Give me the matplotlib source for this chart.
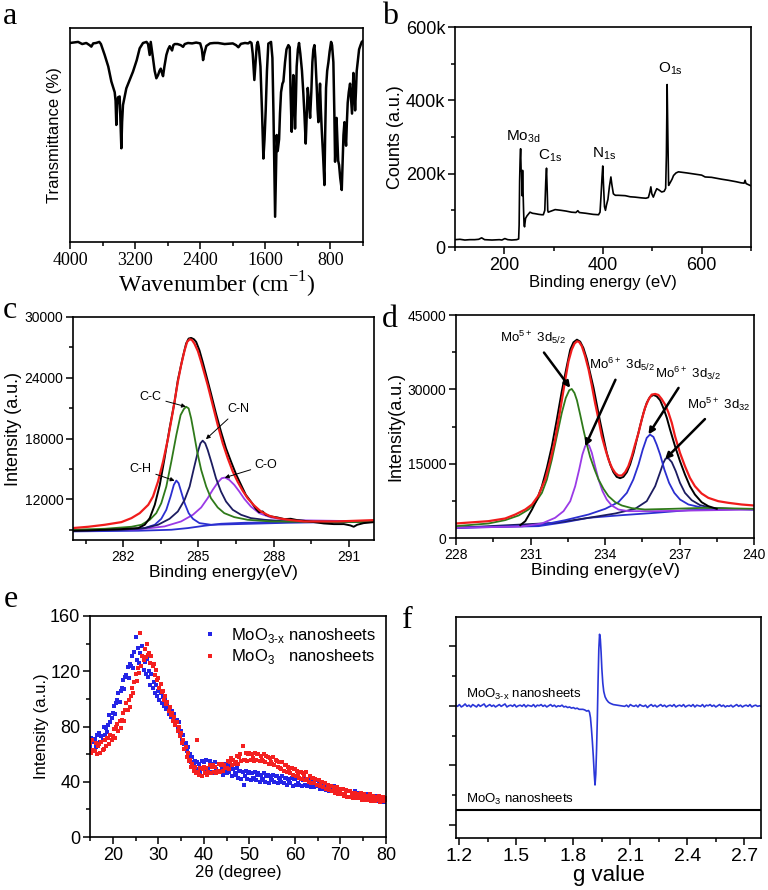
import numpy as np
import matplotlib
matplotlib.use('Agg')
import matplotlib.pyplot as plt
from matplotlib.ticker import FuncFormatter

plt.rcParams['font.family'] = ['Liberation Sans', 'DejaVu Sans']
plt.rcParams['axes.linewidth'] = 1.2
SERIF = ['Liberation Serif', 'DejaVu Serif']
W, H = 768, 890

# ---------------- (a) FTIR ----------------
ftir_wn = [4000, 3900, 3850, 3800, 3760, 3738, 3715, 3680, 3640, 3620, 3574, 3530, 3492, 3451, 3440, 3431,
           3420, 3410, 3390, 3369, 3360, 3349, 3308, 3226, 3180, 3144, 3103, 3060, 3041, 3021, 3008, 2995,
           2980, 2960, 2939, 2918, 2900, 2885, 2870, 2857, 2840, 2816, 2795, 2775, 2746, 2730, 2713, 2680,
           2640, 2611, 2590, 2550, 2500, 2450, 2400, 2380, 2365, 2350, 2325, 2280, 2230, 2181, 2100, 2000,
           1960, 1931, 1900, 1850, 1810, 1788, 1770, 1755, 1735, 1720, 1705, 1693, 1680, 1660, 1640, 1624,
           1610, 1595, 1580, 1563, 1530, 1513, 1500, 1490, 1480, 1470, 1460, 1448, 1431, 1420, 1407, 1390,
           1378, 1358, 1340, 1317, 1300, 1290, 1276, 1265, 1256, 1245, 1235, 1225, 1215, 1200, 1186, 1170,
           1150, 1133, 1120, 1104, 1090, 1079, 1065, 1050, 1035, 1022, 1010, 997, 985, 968, 958, 948,
           938, 928, 918, 907, 890, 874, 865, 854, 840, 825, 810, 792, 780, 764, 752, 743,
           735, 725, 715, 705, 694, 680, 661, 650, 640, 628, 618, 608, 598, 588, 575, 559,
           545, 535, 518, 508, 497, 487, 477, 460, 448, 430, 415, 400]
ftir_t = [93, 93.5, 92.5, 93, 92, 91.3, 92.8, 93, 93.5, 92.5, 87.4, 82, 75, 70, 66, 54.7,
          64, 67.6, 68, 43.8, 56, 64, 71.8, 79.6, 85, 90.5, 93, 93.5, 92.5, 87.4, 93.5, 90,
          85.8, 80, 76.5, 78, 80, 81, 79, 77.5, 82, 87.4, 90, 91.5, 89.5, 92, 92.5, 92.5,
          92, 91.2, 92.5, 93, 92.8, 93.2, 92.8, 90, 85, 88, 91.6, 92.8, 93, 93, 92.5, 92.8,
          92, 91, 92.6, 93, 92.8, 93.5, 93, 88, 75.7, 84, 92, 93.5, 91, 82, 60, 39,
          48, 62, 80, 92.7, 93.5, 86, 60, 35, 11.8, 30, 50, 42.5, 48, 60, 70, 74,
          75, 84, 90, 92, 91, 70, 51.5, 65, 78, 68, 53, 66, 82, 90, 93, 88,
          80, 69.5, 60, 46, 60, 72, 66, 58, 70, 84, 90, 92, 86, 72, 62, 56,
          66, 74, 62, 52.5, 40, 26.6, 50, 72, 80, 84, 89, 93.5, 92, 84, 60, 37.5,
          48, 58, 48, 38, 36, 30, 24.3, 38, 50, 56, 50, 45, 56, 65, 70, 74,
          66, 60, 79, 72, 61.5, 70, 80, 86, 90, 92, 93.5, 94]

# ---------------- (b) XPS survey (counts in k) ----------------
survey_be = [100, 110, 120, 130, 140, 148, 154, 160, 175, 190, 195, 201, 207, 215, 225, 229, 230, 231, 232,
             233, 234, 235, 236, 237, 238, 239, 240, 241, 243, 246, 252, 257, 262, 270, 276, 279, 282, 284,
             285.5, 287, 288, 289, 295, 303, 315, 325, 336, 345, 349, 352, 365, 370, 380, 391, 394, 396,
             398, 399.5, 401, 403, 405, 407, 410, 413, 416, 418, 421, 425, 431, 445, 455, 465, 478, 487,
             492, 495, 497, 499, 502, 506, 509, 514, 519, 524, 527, 528.5, 530, 531.5, 533, 536, 540, 543,
             548, 553, 570, 585, 600, 607, 620, 640, 654, 670, 680, 686, 688, 690, 698, 700]
survey_k = [20, 21, 19, 20, 20, 21, 25, 20, 19, 20, 19, 23, 20, 19, 20, 22, 60, 180, 240,
            268, 210, 205, 140, 209, 150, 100, 60, 55, 78, 85, 95, 92, 91, 89, 88, 88, 100, 180,
            215, 150, 100, 95, 98, 102, 100, 98, 95, 94, 99, 94, 92, 91, 89, 88, 95, 140,
            190, 221, 170, 110, 100, 114, 130, 165, 191, 170, 145, 141, 141, 140, 137, 136, 134, 133,
            135, 150, 164, 145, 136, 150, 159, 155, 150, 152, 160, 250, 443, 300, 168, 175, 185, 195,
            202, 205, 202, 199, 196, 191, 190, 185, 182, 178, 175, 174, 182, 173, 168, 167]

# ---------------- (c) C 1s ----------------
c_data_be = [280.0, 280.6, 281.27, 281.93, 282.6, 282.86, 283.06, 283.26, 283.46, 283.65, 283.85, 284.05,
             284.18, 284.38, 284.51, 284.61, 284.71, 284.82, 284.91, 285.04, 285.17, 285.31, 285.5, 285.7,
             285.9, 286.1, 286.3, 286.5, 286.7, 286.89, 287.09, 287.29, 287.42, 287.56, 287.69, 287.89,
             288.15, 288.42, 288.68, 288.94, 289.21, 289.61, 290.0, 290.4, 290.8, 291.06, 291.19, 291.33,
             291.59, 292.0]
c_data = [8913, 8946, 9011, 9077, 9175, 9503, 10159, 11470, 13439, 16063, 19015, 21639,
          23771, 26067, 27379, 27871, 27937, 27805, 27543, 26723, 25575, 24263, 22459, 20491,
          18687, 17047, 15735, 14489, 13439, 12455, 11799, 11077, 10749, 10815, 10487, 10323,
          10225, 10061, 10093, 9962, 9897, 9765, 9634, 9568, 9568, 9437, 9306, 9503,
          9667, 9765]
c_fit_be = [280.0, 280.61, 281.27, 281.93, 282.33, 282.66, 283.0, 283.19, 283.39, 283.59, 283.79, 283.98,
            284.18, 284.31, 284.45, 284.55, 284.65, 284.74, 284.84, 284.98, 285.11, 285.24, 285.37, 285.57,
            285.77, 285.97, 286.17, 286.37, 286.56, 286.76, 286.96, 287.22, 287.49, 287.82, 288.15, 288.68,
            289.21, 290.53, 292.0]
c_fit = [9180, 9306, 9503, 9765, 10159, 10651, 11470, 12291, 13767, 15735, 18031, 20655,
         23607, 25247, 26723, 27543, 27805, 27740, 27380, 26625, 25575, 24427, 23279, 21311,
         19343, 17539, 16063, 14751, 13767, 12881, 12127, 11405, 10815, 10389, 10159, 9962,
         9831, 9831, 9962]
cc_be = [280.0, 281.27, 282.33, 282.73, 283.06, 283.32, 283.52, 283.72, 283.92, 284.12, 284.29, 284.42,
         284.51, 284.61, 284.71, 284.82, 284.95, 285.11, 285.31, 285.5, 285.77, 286.03, 286.43, 286.96,
         287.89, 292.0]
cc = [9011, 9109, 9306, 9503, 9995, 10651, 11635, 13275, 15735, 18359, 20327, 20917,
      21147, 20983, 19999, 18523, 16719, 14915, 13275, 12127, 11209, 10651, 10257, 9995,
      9831, 9765]
cn_be = [280.0, 281.93, 282.86, 283.39, 283.85, 284.18, 284.45, 284.65, 284.82, 284.98, 285.08, 285.17,
         285.27, 285.37, 285.53, 285.7, 285.9, 286.1, 286.37, 286.7, 287.09, 287.62, 288.55, 292.0]
cn = [8913, 9011, 9175, 9503, 10093, 10815, 11963, 13275, 15079, 16719, 17539, 17801,
      17539, 16883, 15571, 14095, 12783, 11799, 10979, 10487, 10159, 9995, 9831, 9765]
ch_be = [280.0, 281.93, 282.86, 283.26, 283.52, 283.72, 283.89, 284.02, 284.12, 284.21, 284.31, 284.45,
         284.61, 284.78, 285.04, 285.5, 286.56, 288.55, 292.0]
ch = [8913, 8978, 9175, 9503, 10093, 10979, 12291, 13439, 13865, 13603, 12783, 11635,
      10651, 10093, 9667, 9503, 9568, 9699, 9831]
co_be = [280.0, 282.6, 283.65, 284.31, 284.78, 285.11, 285.37, 285.57, 285.77, 285.93, 286.06, 286.23,
         286.43, 286.63, 286.83, 287.09, 287.42, 287.89, 288.55, 292.0]
co = [8913, 9044, 9339, 9831, 10487, 11209, 12127, 12947, 13669, 14095, 14161, 13931,
      13439, 12783, 12061, 11307, 10651, 10225, 9962, 9831]
c_bg_be = [280.0, 282.6, 283.92, 284.58, 285.24, 285.9, 286.83, 288.55, 292.0]
c_bg = [8847, 8913, 9011, 9175, 9405, 9601, 9699, 9765, 9831]

# ---------------- (d) Mo 3d ----------------
d_data_be = [230.59, 230.79, 231.06, 231.26, 231.46, 231.66, 231.86, 232.06, 232.26, 232.46, 232.6, 232.73,
             232.87, 233.0, 233.13, 233.27, 233.4, 233.54, 233.67, 233.8, 233.94, 234.07, 234.21, 234.34,
             234.47, 234.61, 234.74, 234.88, 235.01, 235.15, 235.28, 235.41, 235.55, 235.68, 235.81, 235.95,
             236.08, 236.22, 236.35, 236.49, 236.62, 236.82, 237.02, 237.22, 237.42, 237.62, 237.89, 238.16,
             238.5]
d_data = [2594, 3400, 5752, 7768, 10456, 14152, 18520, 23896, 29608, 34648, 38008, 39486,
          40024, 39621, 38344, 36126, 33304, 30280, 26920, 23560, 20200, 17176, 14824, 13278,
          12338, 12069, 12338, 13278, 14824, 17176, 19864, 22552, 25240, 27256, 28466, 28869,
          28600, 27794, 26248, 24232, 21880, 18520, 15496, 12808, 10456, 8776, 7230, 6424,
          5886]
d_fit_be = [228.0, 229.31, 229.98, 230.39, 230.79, 231.06, 231.32, 231.59, 231.79, 231.99, 232.2, 232.4,
            232.53, 232.66, 232.77, 232.87, 232.96, 233.07, 233.2, 233.34, 233.47, 233.6, 233.74, 233.87,
            234.01, 234.14, 234.28, 234.41, 234.54, 234.68, 234.81, 234.94, 235.08, 235.21, 235.35, 235.48,
            235.61, 235.75, 235.88, 236.02, 236.15, 236.28, 236.42, 236.55, 236.69, 236.82, 237.02, 237.22,
            237.42, 237.62, 237.89, 238.16, 238.56, 238.97, 239.5, 240.0]
d_fit = [2930, 3400, 3938, 4744, 5752, 6760, 8574, 11800, 15496, 19864, 25912, 31960,
         35656, 38008, 39218, 39688, 39554, 38680, 36664, 33976, 30750, 27256, 23896, 20536,
         17982, 15832, 14152, 13144, 12606, 12606, 13278, 14488, 16504, 18856, 21208, 23896,
         26248, 27928, 28936, 29070, 28869, 28062, 26920, 25374, 23224, 20536, 17176, 14488,
         12136, 10456, 8978, 8104, 7432, 7096, 6760, 6558]
mo5_52_be = [228.0, 229.31, 229.98, 230.52, 230.92, 231.19, 231.46, 231.66, 231.86, 232.06, 232.26, 232.42,
             232.56, 232.66, 232.77, 232.87, 233.0, 233.13, 233.27, 233.4, 233.58, 233.74, 233.94, 234.14,
             234.41, 234.68, 235.08, 235.61, 236.69, 238.03, 240.0]
mo5_52 = [2392, 2930, 3602, 4542, 5752, 7096, 9112, 11800, 15832, 20536, 25240, 28264,
          29810, 30078, 29272, 27794, 24904, 21880, 18856, 16370, 13816, 11800, 9918, 8440,
          7230, 6558, 6021, 5752, 5886, 6088, 5886]
mo6_52_be = [228.0, 230.65, 231.46, 231.99, 232.33, 232.6, 232.8, 232.96, 233.09, 233.2, 233.28, 233.36,
             233.47, 233.6, 233.74, 233.9, 234.07, 234.27, 234.54, 234.94, 236.02, 240.0]
mo6_52 = [2056, 2325, 2930, 4072, 5416, 7432, 10456, 13816, 16840, 18520, 18923, 18654,
          17176, 14488, 11800, 9448, 7768, 6558, 5752, 5416, 5416, 5752]
mo6_32_be = [228.0, 231.32, 232.4, 233.34, 234.01, 234.54, 234.88, 235.14, 235.35, 235.52, 235.68, 235.81,
             235.95, 236.08, 236.22, 236.39, 236.58, 236.79, 237.02, 237.36, 237.89, 238.7, 240.0]
mo6_32 = [2056, 2526, 3602, 4744, 5886, 7230, 9112, 11800, 14824, 17848, 20200, 20872,
          20402, 18856, 16840, 13816, 11128, 9112, 7768, 6760, 6155, 5886, 5752]
mo5_32_be = [228.0, 231.99, 233.34, 234.41, 235.21, 235.68, 236.02, 236.22, 236.35, 236.44, 236.55, 236.69,
             236.85, 237.02, 237.22, 237.49, 237.83, 238.29, 239.1, 240.0]
mo5_32 = [2056, 3064, 4072, 4946, 5886, 7432, 10456, 13278, 15160, 16034, 16101, 15294,
          13480, 11128, 9112, 7634, 6626, 6088, 5886, 5752]
d_bg_be = [228.0, 231.32, 232.4, 233.34, 234.68, 236.02, 237.36, 240.0]
d_bg = [2056, 2392, 3198, 4072, 4610, 5080, 5618, 5886]

# ---------------- (e) XRD, 15-80 deg every 0.25 deg ----------------
xrd_2theta = np.linspace(15, 80, 261)
xrd_moo3x = [66, 72, 63, 69, 71, 65, 74, 68, 75, 69, 73, 70, 80, 74, 79, 76, 81, 88, 83, 86,
             90, 95, 89, 97, 99, 104, 98, 106, 108, 114, 107, 116, 117, 123, 115, 125, 124, 131, 122, 134,
             145, 128, 137, 126, 133, 124, 138, 121, 127, 118, 129, 116, 120, 110, 118, 108, 112, 104, 110, 102,
             106, 99, 104, 97, 101, 95, 99, 93, 95, 89, 94, 87, 91, 84, 89, 82, 85, 78, 83, 75,
             77, 70, 74, 67, 68, 62, 65, 58, 60, 54, 58, 52, 55, 49, 54, 48, 53, 47, 55, 49,
             54, 48, 56, 50, 49, 55, 47, 53, 52, 46, 54, 49, 47, 53, 48, 52, 51, 45, 53, 48,
             46, 52, 47, 50, 50, 44, 49, 46, 45, 50, 43, 48, 48, 42, 47, 38, 44, 48, 42, 46,
             47, 41, 46, 43, 42, 47, 41, 45, 46, 40, 45, 42, 41, 46, 40, 44, 45, 39, 44, 42,
             41, 45, 40, 44, 44, 39, 43, 41, 40, 44, 39, 43, 43, 38, 42, 40, 39, 43, 37, 42,
             42, 38, 43, 39, 38, 42, 37, 41, 42, 38, 41, 37, 38, 41, 36, 40, 40, 36, 41, 38,
             37, 40, 35, 39, 39, 35, 38, 34, 35, 38, 33, 37, 36, 33, 37, 32, 33, 36, 31, 35,
             34, 31, 35, 30, 31, 34, 29, 33, 33, 29, 32, 28, 29, 33, 28, 31, 32, 28, 31, 27,
             28, 31, 27, 30, 31, 27, 30, 26, 27, 30, 26, 29, 30, 26, 29, 25, 26, 29, 25, 28,
             27]
xrd_moo3 = [68, 61, 70, 63, 62, 68, 60, 66, 67, 61, 69, 63, 64, 70, 66, 72, 72, 67, 74, 70,
            73, 78, 72, 80, 82, 77, 84, 79, 85, 90, 84, 92, 97, 92, 99, 94, 102, 108, 104, 112,
            118, 113, 122, 119, 148, 124, 131, 128, 136, 130, 140, 132, 133, 126, 131, 124, 125, 117, 121, 114,
            115, 108, 111, 105, 106, 99, 102, 96, 98, 91, 94, 88, 90, 84, 87, 81, 83, 77, 80, 73,
            75, 68, 70, 64, 65, 58, 61, 55, 56, 51, 53, 48, 51, 46, 70, 47, 45, 50, 44, 49,
            51, 46, 50, 45, 47, 52, 46, 51, 52, 47, 51, 46, 48, 53, 47, 52, 53, 48, 52, 50,
            50, 55, 49, 54, 57, 52, 56, 53, 54, 59, 53, 58, 60, 55, 66, 56, 56, 61, 55, 60,
            61, 56, 60, 57, 55, 61, 56, 60, 60, 55, 59, 56, 55, 60, 54, 59, 58, 53, 57, 54,
            53, 58, 52, 56, 55, 51, 54, 50, 49, 54, 48, 52, 52, 47, 51, 48, 46, 50, 45, 49,
            49, 44, 48, 45, 43, 47, 42, 46, 45, 41, 47, 42, 40, 44, 39, 43, 43, 39, 42, 38,
            38, 41, 37, 40, 40, 36, 39, 35, 35, 38, 34, 37, 37, 33, 36, 32, 33, 36, 31, 35,
            34, 31, 35, 30, 31, 34, 29, 33, 33, 29, 32, 28, 29, 32, 28, 31, 31, 28, 32, 27,
            29, 31, 27, 30, 30, 27, 31, 26, 28, 30, 26, 29, 29, 27, 30, 25, 27, 29, 26, 28,
            27]

# ---------------- (f) EPR ----------------
epr_left = [2.01, 1.99, 2.02, 1.98, 2.00, 2.03, 1.99, 2.01, 1.98, 2.02,
            2.00, 1.98, 2.02, 1.99, 2.01, 2.03, 1.98, 2.00, 2.02, 1.99,
            2.01, 1.98, 2.00, 2.02, 1.99, 2.01, 2.03, 1.98, 2.00, 2.01,
            1.99, 2.02, 1.98, 2.00, 2.01, 1.99, 2.02, 1.98, 2.01, 2.00,
            1.99, 2.02, 1.98, 2.01, 2.00, 2.02, 1.99, 2.01, 1.98, 2.00,
            2.02, 1.99, 2.01, 1.98, 2.00, 1.99, 2.01, 1.98, 1.99, 1.97,
            1.98, 1.96, 1.97, 1.95, 1.96, 1.94, 1.94]
epr_peak_g = [1.85, 1.86, 1.87, 1.88, 1.885, 1.89, 1.895, 1.90, 1.905, 1.91, 1.914, 1.918, 1.922, 1.926,
              1.930, 1.934, 1.938, 1.942, 1.946, 1.950, 1.955, 1.960, 1.967, 1.975, 1.985, 1.995, 2.01,
              2.03, 2.05]
epr_peak = [1.94, 1.93, 1.91, 1.92, 1.89, 1.80, 1.62, 1.40, 1.15, 0.85, 0.67, 0.85, 1.25, 1.75,
            2.40, 2.95, 3.20, 3.12, 2.90, 2.62, 2.38, 2.24, 2.15, 2.10, 2.06, 2.04, 2.02,
            2.01, 2.00]
epr_right = [1.99, 2.01, 1.98, 2.02, 2.00, 1.99, 2.01, 1.98, 2.02, 2.00,
             1.99, 2.01, 1.97, 2.00, 2.02, 1.99, 2.01, 1.98, 2.00, 2.02,
             1.99, 2.01, 1.98, 2.00, 2.01, 1.99, 2.02, 1.98, 2.00, 2.01,
             1.99, 2.02, 1.98, 2.00, 2.01, 1.99, 2.02, 1.98, 2.01, 2.00,
             1.99, 2.02, 1.98, 2.01, 2.00, 2.02, 1.99, 2.01, 1.98, 2.00,
             2.02, 1.99, 2.01, 1.98, 2.00, 1.99, 2.01, 1.98, 2.00, 2.02,
             1.99, 2.01, 1.98, 2.00, 2.01, 1.99, 2.02, 1.98, 2.00, 2.01,
             1.99, 2.00, 1.99]
epr_moo3_g = [1.18, 2.79]
epr_moo3 = [0.25, 0.25]

RED = '#f01c1c'
GREEN = '#2f7a1a'
NAVY = '#1c1c60'
BLUE = '#2b2fd0'
PURPLE = '#9a3ae6'
MOO3X = 'MoO$_{\\mathregular{3\u2010x}}$'


fig = plt.figure(figsize=(W / 100, H / 100), dpi=100)


def make_axes(left, top, right, bottom):
    return fig.add_axes([left / W, 1 - bottom / H, (right - left) / W, (bottom - top) / H])


def style(ax, size):
    ax.tick_params(which='both', direction='out', top=False, right=False, width=1.1,
                   labelsize=size, pad=2)
    ax.tick_params(which='major', length=5)
    ax.tick_params(which='minor', length=3)


def mo(ox, orb):
    return 'Mo$^{\\mathregular{' + ox + '+}}$ 3d$_{\\mathregular{' + orb + '}}$'


# panel a
ax = make_axes(70, 28, 363, 242)
ax.plot(ftir_wn, ftir_t, color='black', lw=1.8)
ax.set_xlim(4000, 400)
ax.set_ylim(0, 100)
ax.set_xticks([4000, 3200, 2400, 1600, 800])
ax.set_xticks([3600, 2800, 2000, 1200, 400], minor=True)
ax.set_yticks([])
style(ax, 13)
for lab in ax.get_xticklabels():
    lab.set_family(SERIF)
ax.set_xlabel('Wavenumber (cm$^{\\mathregular{-1}}$)', family=SERIF, fontsize=17, labelpad=1)
ax.set_ylabel('Transmittance (%)', fontsize=12, labelpad=6)

# panel b
ax = make_axes(455, 27, 751, 247)
ax.plot(survey_be, survey_k, color='black', lw=1.2)
ax.set_xlim(100, 700)
ax.set_ylim(0, 600)
ax.set_xticks([200, 400, 600])
ax.set_xticks([100, 300, 500, 700], minor=True)
ax.set_yticks([0, 200, 400, 600])
ax.set_yticks([100, 300, 500], minor=True)
ax.yaxis.set_major_formatter(FuncFormatter(lambda v, p: '0' if v == 0 else '%dk' % v))
style(ax, 13)
ax.set_xlabel('Binding energy (eV)', fontsize=12, labelpad=1)
ax.set_ylabel('Counts (a.u.)', fontsize=13, labelpad=1)
ax.text(238, 302, 'Mo$_{\\mathregular{3d}}$', fontsize=11, ha='center', va='center')
ax.text(292.5, 250, 'C$_{\\mathregular{1s}}$', fontsize=11, ha='center', va='center')
ax.text(403, 254, 'N$_{\\mathregular{1s}}$', fontsize=11, ha='center', va='center')
ax.text(536, 487, 'O$_{\\mathregular{1s}}$', fontsize=11, ha='center', va='center')

# panel c
ax = make_axes(73, 317, 374, 540)
ax.plot(c_bg_be, c_bg, color=BLUE, lw=1.3)
ax.plot(co_be, co, color=PURPLE, lw=1.3)
ax.plot(ch_be, ch, color=BLUE, lw=1.3)
ax.plot(cn_be, cn, color=NAVY, lw=1.3)
ax.plot(cc_be, cc, color=GREEN, lw=1.3)
ax.plot(c_data_be, c_data, color='black', lw=1.4)
ax.plot(c_fit_be, c_fit, color=RED, lw=1.6)
ax.set_xlim(280, 292)
ax.set_ylim(8000, 30000)
ax.set_xticks([282, 285, 288, 291])
ax.set_xticks([280.5, 283.5, 286.5, 289.5], minor=True)
ax.set_yticks([12000, 18000, 24000, 30000])
ax.set_yticks([9000, 15000, 21000, 27000], minor=True)
style(ax, 10)
ax.set_xlabel('Binding energy(eV)', fontsize=12.5, labelpad=1)
ax.set_ylabel('Intensity (a.u.)', fontsize=13, labelpad=2)
thin = dict(arrowstyle='-|>', lw=0.7, color='black', mutation_scale=6, shrinkA=1, shrinkB=0)
ax.annotate('C-C', xy=(284.5, 21150), xytext=(283.1, 22100), fontsize=9, ha='center', va='center', arrowprops=thin)
ax.annotate('C-N', xy=(285.3, 17950), xytext=(286.6, 20900), fontsize=9, ha='center', va='center', arrowprops=thin)
ax.annotate('C-H', xy=(284.05, 13850), xytext=(282.7, 15000), fontsize=9, ha='center', va='center', arrowprops=thin)
ax.annotate('C-O', xy=(286.05, 14150), xytext=(287.7, 15400), fontsize=9, ha='center', va='center', arrowprops=thin)

# panel d
ax = make_axes(456, 315, 754, 538)
ax.plot(d_bg_be, d_bg, color=BLUE, lw=1.3)
ax.plot(mo5_32_be, mo5_32, color=NAVY, lw=1.3)
ax.plot(mo6_32_be, mo6_32, color=BLUE, lw=1.3)
ax.plot(mo6_52_be, mo6_52, color=PURPLE, lw=1.3)
ax.plot(mo5_52_be, mo5_52, color=GREEN, lw=1.3)
ax.plot(d_data_be, d_data, color='black', lw=1.4)
ax.plot(d_fit_be, d_fit, color=RED, lw=1.6)
ax.set_xlim(228, 240)
ax.set_ylim(0, 45000)
ax.set_xticks([228, 231, 234, 237, 240])
ax.set_xticks([229.5, 232.5, 235.5, 238.5], minor=True)
ax.set_yticks([0, 15000, 30000, 45000])
ax.set_yticks([7500, 22500, 37500], minor=True)
style(ax, 10)
ax.set_xlabel('Binding energy(eV)', fontsize=12.5, labelpad=1)
ax.set_ylabel('Intensity(a.u.)', fontsize=13, labelpad=2)
thick = dict(arrowstyle='-|>', lw=1.8, color='black', mutation_scale=9, shrinkA=3, shrinkB=0)
ax.annotate(mo('5', '5/2'), xy=(232.6, 30300), xytext=(231.1, 40400),
            fontsize=9.5, ha='center', va='center', arrowprops=thick)
ax.annotate(mo('6', '5/2'), xy=(233.2, 18500), xytext=(234.7, 35000),
            fontsize=9.5, ha='center', va='center', arrowprops=thick)
ax.annotate(mo('6', '3/2'), xy=(235.75, 20900), xytext=(237.35, 33300),
            fontsize=9.5, ha='center', va='center', arrowprops=thick)
ax.annotate(mo('5', '32'), xy=(236.42, 15900), xytext=(238.6, 26900),
            fontsize=9.5, ha='center', va='center', arrowprops=thick)

# panel e
ax = make_axes(90, 616, 386, 837)
ax.plot(xrd_2theta, xrd_moo3x, 's', ms=2.6, mew=0, color='#2424e6',
        label=MOO3X + ' nanosheets')
ax.plot(xrd_2theta, xrd_moo3, 's', ms=2.6, mew=0, color='#f42020',
        label='MoO$_{\\mathregular{3}}$   nanosheets')
ax.set_xlim(15, 80)
ax.set_ylim(0, 160)
ax.set_xticks([20, 30, 40, 50, 60, 70, 80])
ax.set_xticks([15, 25, 35, 45, 55, 65, 75], minor=True)
ax.set_yticks([0, 40, 80, 120, 160])
ax.set_yticks([20, 60, 100, 140], minor=True)
style(ax, 13)
ax.set_xlabel('2\u03b8 (degree)', fontsize=12, labelpad=1)
ax.set_ylabel('Intensity (a.u.)', fontsize=12, labelpad=1)
ax.legend(loc='upper right', frameon=False, fontsize=12, markerscale=1.0, handlelength=1.0,
          handletextpad=0.8, labelspacing=0.15, borderaxespad=0.2)

# panel f
ax = make_axes(456, 617, 761, 838)
epr_g = np.concatenate([np.arange(118, 185) / 100, epr_peak_g, np.arange(207, 280) / 100])
epr_y = np.concatenate([epr_left, epr_peak, epr_right])
ax.plot(epr_g, epr_y, color='#2a36d8', lw=1.2)
ax.plot(epr_moo3_g, epr_moo3, color='black', lw=1.5)
ax.set_xlim(1.182, 2.788)
ax.set_ylim(-0.22, 3.49)
ax.set_xticks([1.2, 1.5, 1.8, 2.1, 2.4, 2.7])
ax.set_xticks([1.35, 1.65, 1.95, 2.25, 2.55], minor=True)
ax.set_yticks([0, 1, 2, 3])
ax.set_yticks([0.5, 1.5, 2.5], minor=True)
ax.set_yticklabels([])
style(ax, 14)
ax.set_xlabel('g value', fontsize=16, labelpad=0)
ax.text(1.235, 2.13, MOO3X + ' nanosheets', fontsize=9.5, va='baseline')
ax.text(1.235, 0.376, 'MoO$_{\\mathregular{3}}$ nanosheets', fontsize=9.5, va='baseline')

# panel letters
for letter, x, y in [('a', 3, 24), ('b', 382, 24), ('c', 3, 318), ('d', 382, 327), ('e', 4, 607), ('f', 402, 628)]:
    fig.text(x / W, 1 - y / H, letter, family=SERIF, fontsize=23, va='baseline', ha='left')

fig.savefig('out.png', dpi=100)
